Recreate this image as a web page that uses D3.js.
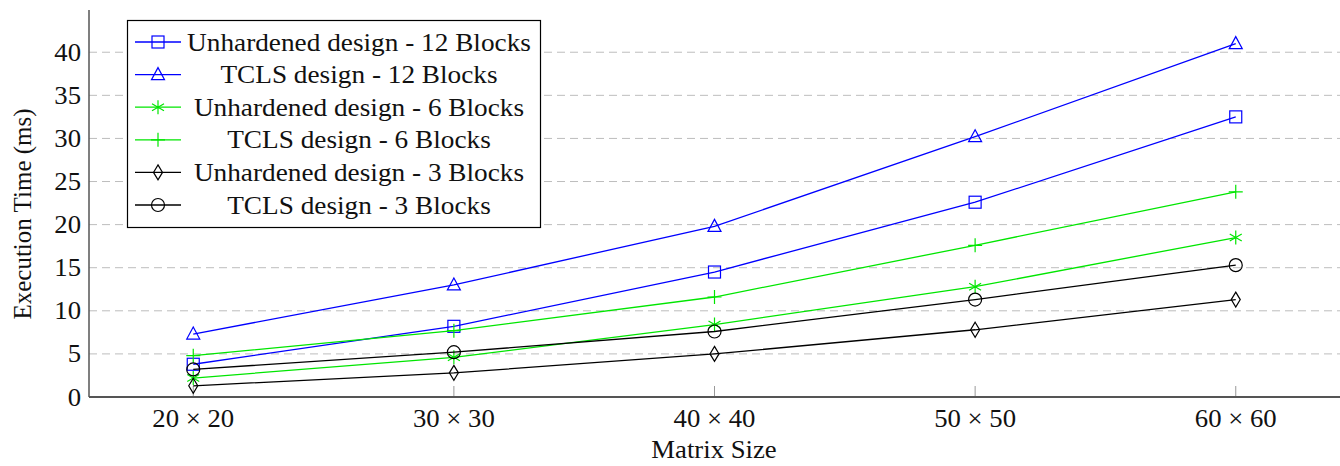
<!DOCTYPE html>
<html>
<head>
<meta charset="utf-8">
<script src="https://cdn.jsdelivr.net/npm/d3@7"></script>
<style>
  body { margin: 0; background: #fff; }
</style>
</head>
<body>
<div class="canvas"></div>
<script>
// data
const sizes = [20, 30, 40, 50, 60]
const sizeLabels = ['20 × 20', '30 × 30', '40 × 40', '50 × 50', '60 × 60']
const yTicks = [0, 5, 10, 15, 20, 25, 30, 35, 40]

const unhardened12 = [3.8, 8.2, 14.5, 22.6, 32.5]
const tcls12 = [7.3, 13.0, 19.8, 30.2, 41.0]
const unhardened6 = [2.2, 4.6, 8.4, 12.8, 18.5]
const tcls6 = [4.8, 7.7, 11.6, 17.6, 23.8]
const unhardened3 = [1.3, 2.8, 5.0, 7.8, 11.3]
const tcls3 = [3.2, 5.2, 7.6, 11.3, 15.3]

const series = [
  { name: 'Unhardened design - 12 Blocks', values: unhardened12, color: '#0000ff', marker: 'square' },
  { name: 'TCLS design - 12 Blocks', values: tcls12, color: '#0000ff', marker: 'triangle' },
  { name: 'Unhardened design - 6 Blocks', values: unhardened6, color: '#00e600', marker: 'star' },
  { name: 'TCLS design - 6 Blocks', values: tcls6, color: '#00e600', marker: 'plus' },
  { name: 'Unhardened design - 3 Blocks', values: unhardened3, color: '#000', marker: 'diamond' },
  { name: 'TCLS design - 3 Blocks', values: tcls3, color: '#000', marker: 'circle' }
]

const serif = 'Liberation Serif'
const stretch = 1.07 // the reference text is a little wider than tall

const dims = { width: 1340, height: 466 }
const plot = { left: 89, right: 1340, top: 10, bottom: 397 }

const svg = d3.select('.canvas').append('svg')
  .attr('width', dims.width)
  .attr('height', dims.height)
  .attr('font-family', serif)

const x = d3.scaleLinear().domain([16, 64]).range([plot.left, plot.right])
const y = d3.scaleLinear().domain([0, 44.9]).range([plot.bottom, plot.top])

// grid lines
svg.append('g')
  .selectAll('line')
  .data(yTicks.filter(d => d > 0))
  .enter().append('line')
  .attr('x1', plot.left).attr('x2', plot.right)
  .attr('y1', d => y(d)).attr('y2', d => y(d))
  .attr('stroke', '#bdbdbd')
  .attr('stroke-width', 1)
  .attr('stroke-dasharray', '8,5')

// x tick marks
svg.append('g')
  .selectAll('line')
  .data(sizes)
  .enter().append('line')
  .attr('x1', d => x(d)).attr('x2', d => x(d))
  .attr('y1', plot.bottom).attr('y2', plot.bottom - 11)
  .attr('stroke', '#999')
  .attr('stroke-width', 1)

// axis lines
svg.append('line')
  .attr('x1', plot.left).attr('x2', plot.left)
  .attr('y1', plot.top).attr('y2', plot.bottom)
  .attr('stroke', '#555').attr('stroke-width', 1.5)
svg.append('line')
  .attr('x1', plot.left).attr('x2', plot.right)
  .attr('y1', plot.bottom).attr('y2', plot.bottom)
  .attr('stroke', '#555').attr('stroke-width', 2)

// horizontal label at (tx, ty) with the slight width stretch
const label = (parent, tx, ty, str, anchor, size) => {
  parent.append('g')
    .attr('transform', `translate(${tx}, ${ty}) scale(${stretch}, 1)`)
    .append('text')
    .attr('text-anchor', anchor)
    .attr('font-family', serif)
    .attr('font-size', size)
    .attr('fill', '#111')
    .text(str)
}

// tick labels
const yLabels = svg.append('g')
yTicks.forEach(t => label(yLabels, plot.left - 8, y(t) + 8.5, t, 'end', 25))

const xLabels = svg.append('g')
sizes.forEach((s, i) => label(xLabels, x(s), 427, sizeLabels[i], 'middle', 25))

// axis titles
label(svg, 714, 458, 'Matrix Size', 'middle', 25)

svg.append('text')
  .attr('transform', `translate(31, 214) rotate(-90)`)
  .attr('text-anchor', 'middle')
  .attr('font-family', serif)
  .attr('font-size', 25)
  .attr('fill', '#111')
  .text('Execution Time (ms)')

// marker drawing
const drawMarker = (g, type, color) => {
  let el
  switch (type) {
    case 'square':
      el = g.append('rect').attr('x', -6).attr('y', -6).attr('width', 12).attr('height', 12)
      break
    case 'triangle':
      el = g.append('path').attr('d', 'M0,-7L6.5,5L-6.5,5Z')
      break
    case 'circle':
      el = g.append('circle').attr('r', 6.5)
      break
    case 'diamond':
      el = g.append('path').attr('d', 'M0,-7.5L4.5,0L0,7.5L-4.5,0Z')
      break
    case 'plus':
      el = g.append('path').attr('d', 'M-7,0H7M0,-7V7')
      break
    case 'star':
      // asterisk, three strokes through the centre
      el = g.append('path').attr('d', 'M0,-7V7M-6,-3.5L6,3.5M-6,3.5L6,-3.5')
      break
  }
  el.attr('fill', 'none').attr('stroke', color).attr('stroke-width', 1.2)
}

const line = d3.line()
  .x((d, i) => x(sizes[i]))
  .y(d => y(d))

const graph = svg.append('g')

series.forEach(ser => {
  graph.append('path')
    .attr('d', line(ser.values))
    .attr('fill', 'none')
    .attr('stroke', ser.color)
    .attr('stroke-width', 1.3)

  ser.values.forEach((v, i) => {
    const g = graph.append('g').attr('transform', `translate(${x(sizes[i])}, ${y(v)})`)
    drawMarker(g, ser.marker, ser.color)
  })
})

// legend
const legend = svg.append('g')
legend.append('rect')
  .attr('x', 127.5).attr('y', 20.5)
  .attr('width', 413).attr('height', 207)
  .attr('fill', '#fff')
  .attr('stroke', '#000')
  .attr('stroke-width', 1.2)

series.forEach((ser, i) => {
  const ly = 42 + i * 32.6
  legend.append('line')
    .attr('x1', 135).attr('x2', 181)
    .attr('y1', ly).attr('y2', ly)
    .attr('stroke', ser.color)
    .attr('stroke-width', 1.3)
  const g = legend.append('g').attr('transform', `translate(158, ${ly})`)
  drawMarker(g, ser.marker, ser.color)
  label(legend, 359, ly + 8.5, ser.name, 'middle', 25.5)
})
</script>
</body>
</html>
